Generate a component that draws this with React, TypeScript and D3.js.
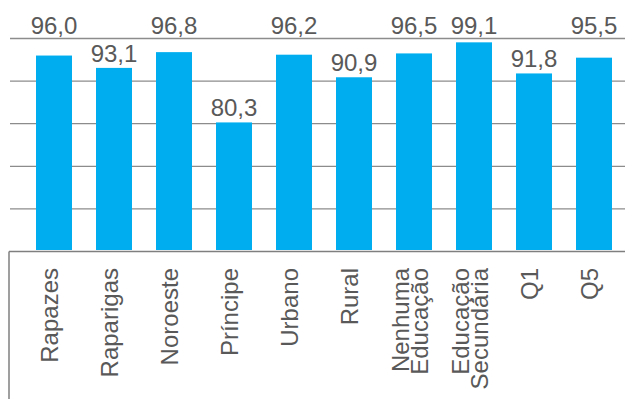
import React from "react";
import * as d3 from "d3";

const categories = [
  "Rapazes",
  "Raparigas",
  "Noroeste",
  "Príncipe",
  "Urbano",
  "Rural",
  "Nenhuma\nEducação",
  "Educação\nSecundária",
  "Q1",
  "Q5",
];
const values = [96.0, 93.1, 96.8, 80.3, 96.2, 90.9, 96.5, 99.1, 91.8, 95.5];
const gridTicks = [60, 70, 80, 90, 100];

const W = 625;
const H = 399;
const FONT = "Liberation Sans, Arial, sans-serif";
const TEXT = "#595959";
const BAR = "#00AEEF";

export default function App() {
  const x = d3
    .scaleBand<string>()
    .domain(categories)
    .range([24, 624])
    .paddingInner(0.4)
    .paddingOuter(0.2);
  const y = d3.scaleLinear().domain([50, 100]).range([251.5, 38.5]);
  const bw = x.bandwidth();
  const fmt = (v: number) => v.toFixed(1).replace(".", ",");

  return (
    <svg
      width={W}
      height={H}
      style={{ position: "absolute", left: 0, top: 0, background: "#fff" }}
      fontFamily={FONT}
    >
      {gridTicks.map((t) => (
        <line
          key={t}
          x1={10}
          x2={W}
          y1={y(t)}
          y2={y(t)}
          stroke="#8c8c8c"
          strokeWidth={1.3}
        />
      ))}
      {categories.map((c, i) => (
        <rect
          key={c}
          x={x(c)}
          y={y(values[i])}
          width={bw}
          height={y(50) - 1.5 - y(values[i])}
          fill={BAR}
        />
      ))}
      <line x1={9} x2={W} y1={y(50)} y2={y(50)} stroke="#7f7f7f" strokeWidth={1.5} />
      <line x1={9} x2={9} y1={y(50)} y2={H} stroke="#7f7f7f" strokeWidth={1.5} />
      {categories.map((c, i) => {
        const v = values[i];
        const cx = (x(c) as number) + bw / 2;
        const ly = v >= 95 ? 33.5 : y(v) - 6;
        return (
          <text
            key={"v" + c}
            x={cx}
            y={ly}
            textAnchor="middle"
            fontSize={24}
            fill={TEXT}
          >
            {fmt(v)}
          </text>
        );
      })}
      {categories.map((c) => {
        const cx = (x(c) as number) + bw / 2;
        const lines = c.split("\n");
        const n = lines.length;
        return lines.map((ln, j) => {
          const bx = cx + 4 + (j - (n - 1) / 2) * 19;
          return (
            <text
              key={"c" + c + j}
              transform={`translate(${bx},268) rotate(-90)`}
              textAnchor="end"
              fontSize={24}
              fill={TEXT}
            >
              {ln}
            </text>
          );
        });
      })}
    </svg>
  );
}
